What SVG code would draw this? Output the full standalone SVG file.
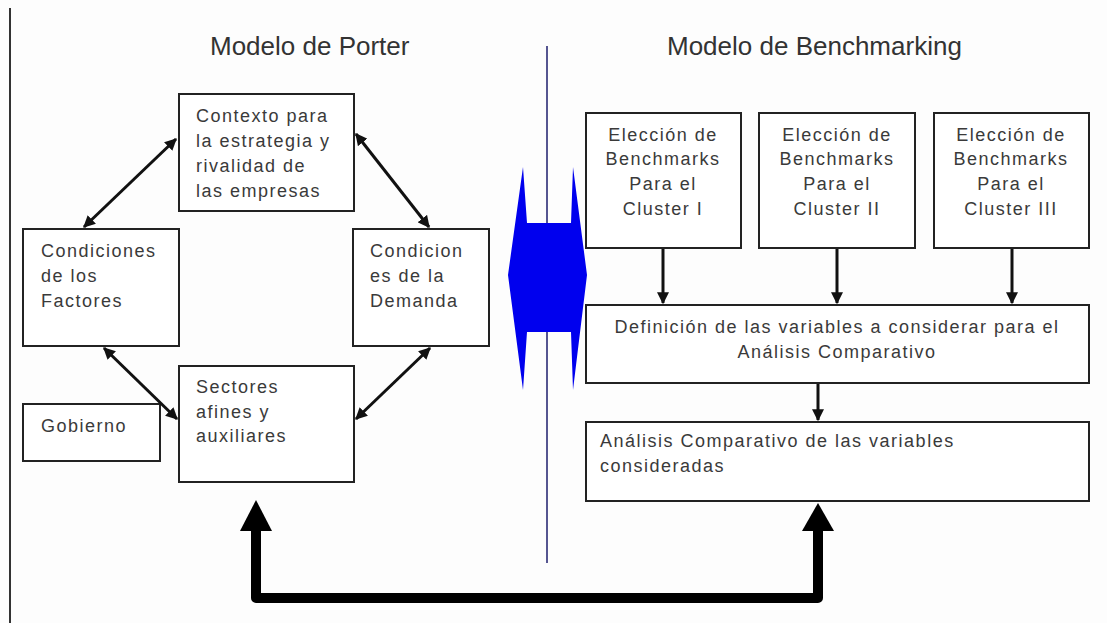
<svg xmlns="http://www.w3.org/2000/svg" width="1107" height="623" viewBox="0 0 1107 623">
<style>
.box{fill:#fff;stroke:#222;stroke-width:2}
.t{font-family:"Liberation Sans",Arial,sans-serif;font-size:18px;letter-spacing:1.5px;fill:#3a3a3a}
.c{text-anchor:middle}
.title{font-family:"Liberation Sans",Arial,sans-serif;font-size:26px;fill:#333}
.ar{stroke:#111;stroke-width:3;fill:none}
</style>
<defs>
<marker id="h" viewBox="0 0 10 10" refX="9" refY="5" markerWidth="4" markerHeight="4" orient="auto-start-reverse" markerUnits="strokeWidth">
<path d="M0,0 L10,5 L0,10 z" fill="#111"/>
</marker>
</defs>
<rect width="1107" height="623" fill="#fdfdfd"/>
<line x1="10" y1="8" x2="10" y2="623" stroke="#333" stroke-width="2"/>
<text class="title" x="210" y="55">Modelo de Porter</text>
<text class="title" x="667" y="55">Modelo de Benchmarking</text>
<line x1="547" y1="46" x2="547" y2="563" stroke="#1c1c6c" stroke-width="1.5"/>
<g id="double-arrow">
<polygon points="523,167 527,223 571,223 573,167 587,275 573,390 571,332 527,332 523,390 508,275" fill="#0000ee"/>
</g>
<g id="contexto">
<rect class="box" x="179" y="94" width="175" height="117"/>
<text class="t" x="196" y="122">Contexto para</text>
<text class="t" x="196" y="147">la estrategia y</text>
<text class="t" x="196" y="172">rivalidad de</text>
<text class="t" x="196" y="197">las empresas</text>
</g>
<g id="factores">
<rect class="box" x="23" y="229" width="156" height="117"/>
<text class="t" x="41" y="257">Condiciones</text>
<text class="t" x="41" y="282">de los</text>
<text class="t" x="41" y="307">Factores</text>
</g>
<g id="demanda">
<rect class="box" x="353" y="229" width="136" height="117"/>
<text class="t" x="370" y="257">Condicion</text>
<text class="t" x="370" y="282">es de la</text>
<text class="t" x="370" y="307">Demanda</text>
</g>
<g id="sectores">
<rect class="box" x="179" y="366" width="175" height="116"/>
<text class="t" x="196" y="393">Sectores</text>
<text class="t" x="196" y="418">afines y</text>
<text class="t" x="196" y="442">auxiliares</text>
</g>
<g id="gobierno">
<rect class="box" x="23" y="404" width="137" height="57"/>
<text class="t" x="41" y="432">Gobierno</text>
</g>
<g id="cluster1">
<rect class="box" x="586" y="113" width="155" height="135"/>
<text class="t c" x="663" y="141">Elección de</text>
<text class="t c" x="663" y="165">Benchmarks</text>
<text class="t c" x="663" y="190">Para el</text>
<text class="t c" x="663" y="215">Cluster I</text>
</g>
<g id="cluster2">
<rect class="box" x="759" y="113" width="156" height="135"/>
<text class="t c" x="837" y="141">Elección de</text>
<text class="t c" x="837" y="165">Benchmarks</text>
<text class="t c" x="837" y="190">Para el</text>
<text class="t c" x="837" y="215">Cluster II</text>
</g>
<g id="cluster3">
<rect class="box" x="934" y="113" width="155" height="135"/>
<text class="t c" x="1011" y="141">Elección de</text>
<text class="t c" x="1011" y="165">Benchmarks</text>
<text class="t c" x="1011" y="190">Para el</text>
<text class="t c" x="1011" y="215">Cluster III</text>
</g>
<g id="definicion">
<rect class="box" x="586" y="305" width="503" height="78"/>
<text class="t c" x="837" y="333">Definición de las variables a considerar para el</text>
<text class="t c" x="837" y="358">Análisis Comparativo</text>
</g>
<g id="analisis">
<rect class="box" x="586" y="422" width="503" height="79"/>
<text class="t" x="600" y="447">Análisis Comparativo de las variables</text>
<text class="t" x="600" y="472">consideradas</text>
</g>
<g id="connectors">
<line class="ar" x1="176" y1="139" x2="84" y2="227" marker-start="url(#h)" marker-end="url(#h)"/>
<line class="ar" x1="356" y1="134" x2="429" y2="227" marker-start="url(#h)" marker-end="url(#h)"/>
<line class="ar" x1="104" y1="348" x2="177" y2="419" marker-start="url(#h)" marker-end="url(#h)"/>
<line class="ar" x1="430" y1="348" x2="356" y2="419" marker-start="url(#h)" marker-end="url(#h)"/>
<line class="ar" x1="663" y1="249" x2="663" y2="303" marker-end="url(#h)"/>
<line class="ar" x1="837" y1="249" x2="837" y2="303" marker-end="url(#h)"/>
<line class="ar" x1="1012" y1="249" x2="1012" y2="303" marker-end="url(#h)"/>
<line class="ar" x1="818" y1="384" x2="818" y2="420" marker-end="url(#h)"/>
<path d="M256,528 V598 H818 V528" fill="none" stroke="#000" stroke-width="10" stroke-linejoin="round"/>
<polygon points="256,500 240,531 272,531" fill="#000"/>
<polygon points="818,503 802,531 834,531" fill="#000"/>
</g>
</svg>
